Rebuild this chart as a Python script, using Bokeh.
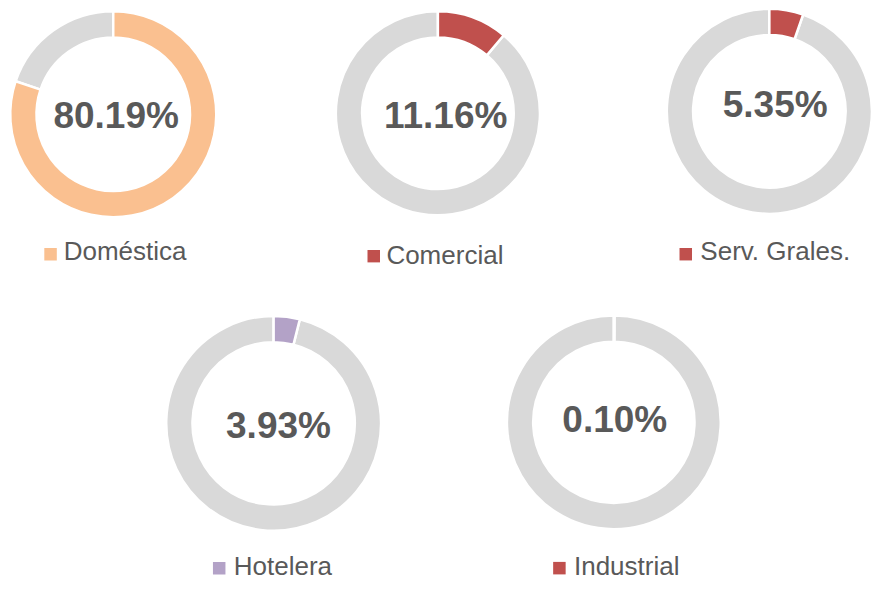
import math
from bokeh.plotting import figure
from bokeh.models import Range1d
from bokeh.core.properties import value
from bokeh.embed import file_html
from bokeh.resources import INLINE

# ---- data ----
categories = ["Doméstica", "Comercial", "Serv. Grales.", "Hotelera", "Industrial"]
shares = [80.19, 11.16, 5.35, 3.93, 0.10]
labels = ["80.19%", "11.16%", "5.35%", "3.93%", "0.10%"]
colors = ["#FAC090", "#C0504D", "#C0504D", "#B3A2C7", "#C0504D"]
rest_color = "#D9D9D9"
text_color = "#595959"

# ---- layout (reference pixel coordinates, scaled to fit) ----
cx = [116, 450, 791, 281, 631]
cy = [117, 116, 114, 435, 434]
r_out = [105, 104, 104.5, 109.5, 109]
ring = 25
lab_x = [119, 458, 797, 286, 632]
lab_mid = [118.5, 118, 107.5, 437.5, 431.5]
sq_x = [51.5, 384, 705, 225, 575]
sq_y = [261, 263, 261, 584, 584]
leg_x = [65, 397, 720, 240, 590]
leg_mid = [258, 262, 258, 582, 582]

W, H = 875, 582
S = 0.972  # uniform scale so the 891x598 layout fits the figure
p = figure(width=W, height=H, output_backend="svg", toolbar_location=None,
           x_range=Range1d(0, W / S), y_range=Range1d(-H / S, 0),
           min_border=0, outline_line_color=None)
p.axis.visible = False
p.grid.visible = False
p.background_fill_color = "white"
p.border_fill_color = "white"

top = math.pi / 2
for i in range(len(categories)):
    frac = shares[i] / 100.0
    x, y = cx[i], -cy[i]
    ro, ri = r_out[i] + 1, r_out[i] - ring - 1
    # remaining (grey) part
    p.annular_wedge(x=[x], y=[y], inner_radius=ri, outer_radius=ro,
                    start_angle=top, end_angle=top + (1 - frac) * 2 * math.pi,
                    fill_color=rest_color, line_color="white", line_width=2.5)
    # share part, clockwise from 12 o'clock
    p.annular_wedge(x=[x], y=[y], inner_radius=ri, outer_radius=ro,
                    start_angle=top - frac * 2 * math.pi, end_angle=top,
                    fill_color=colors[i], line_color="white", line_width=2.5)
    # percent label
    p.text(x=[lab_x[i]], y=[-lab_mid[i]], text=[labels[i]],
           text_font=value("Liberation Sans"), text_font_style="bold",
           text_font_size="37px", text_color=text_color,
           text_align="center", text_baseline="middle")
    # legend
    p.scatter(x=[sq_x[i]], y=[-sq_y[i]], marker="square", size=12.5,
              fill_color=colors[i], line_color=None)
    p.text(x=[leg_x[i]], y=[-leg_mid[i]], text=[categories[i]],
           text_font=value("Liberation Sans"), text_font_size="26px",
           text_color=text_color, text_align="left", text_baseline="middle")

open("out.html", "w").write(file_html(p, INLINE))
